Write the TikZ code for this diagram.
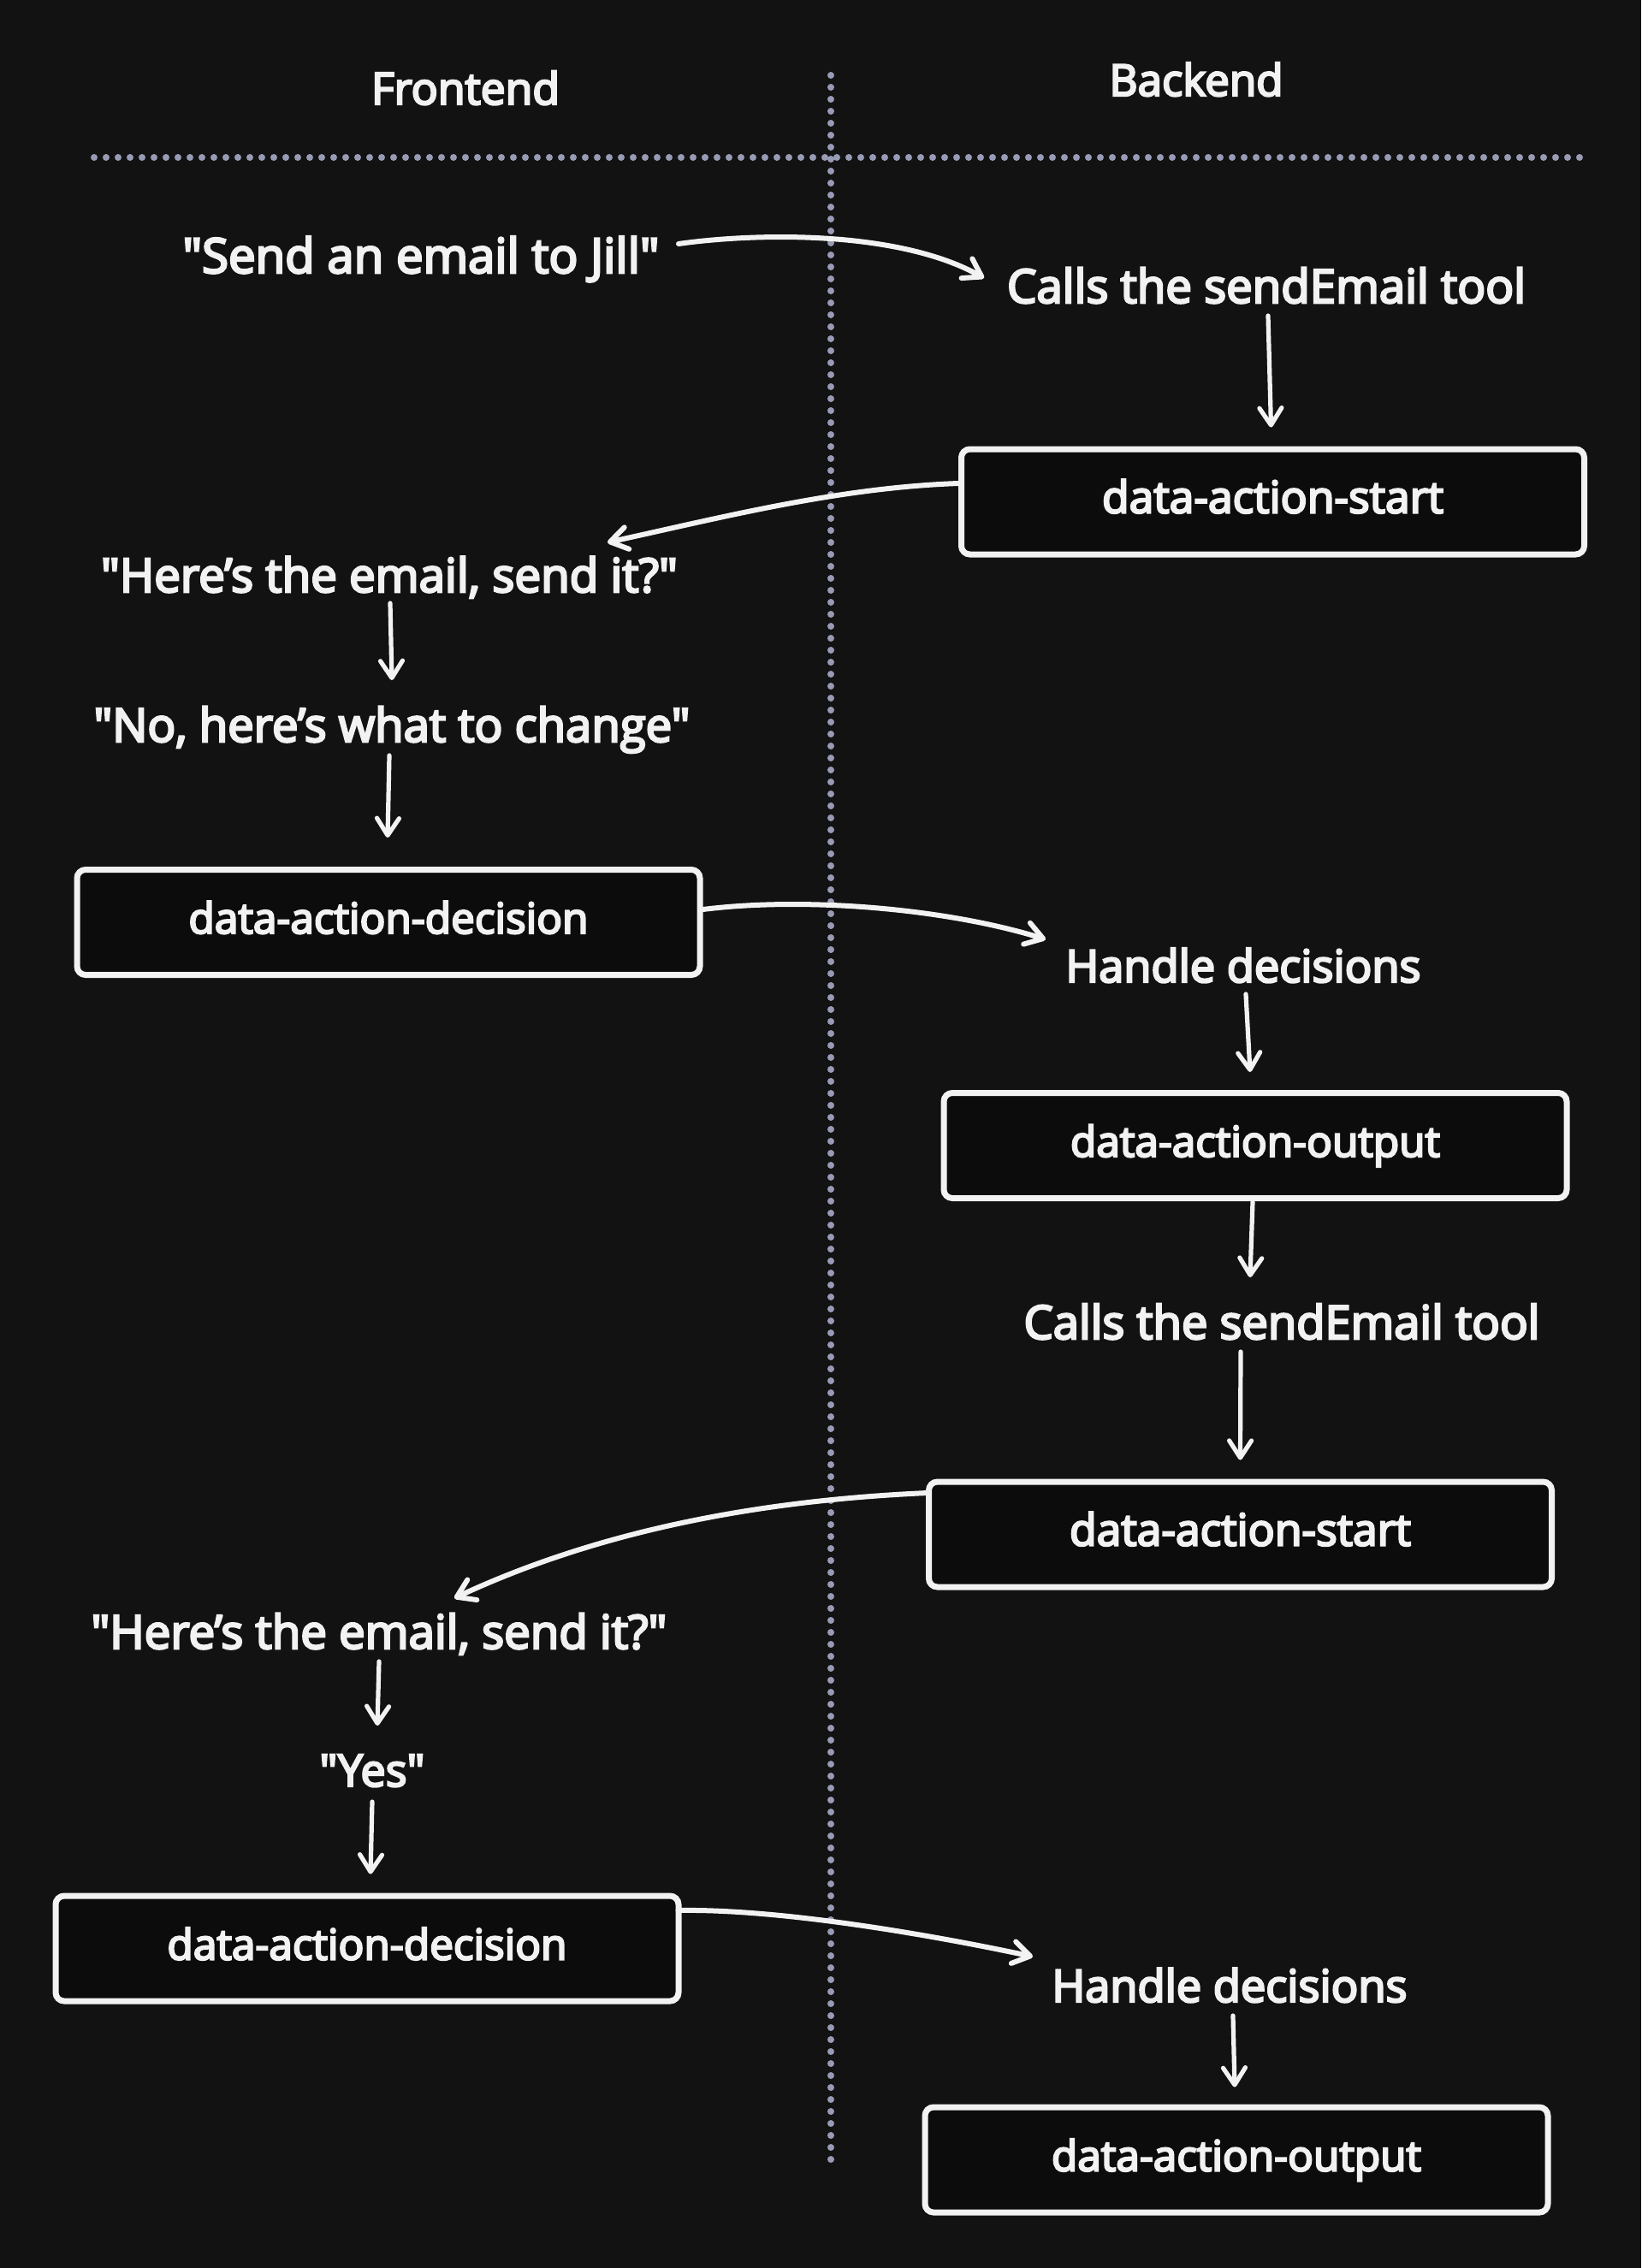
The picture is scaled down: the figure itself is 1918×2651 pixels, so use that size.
\documentclass[tikz,border=0pt]{standalone}
\usepackage{fontspec}
\setmainfont{Open Sans}[FakeBold=4.6, Ligatures=TeXOff]
\usetikzlibrary{arrows.meta,calc}
\definecolor{canvas}{RGB}{18,18,18}
\definecolor{boxfill}{RGB}{12,12,12}
\definecolor{ink}{RGB}{242,242,242}
\definecolor{divider}{RGB}{152,155,181}
% scale a label to a given width (in pt)
\newcommand{\fitto}[2]{\resizebox{#1pt}{!}{#2}}

\begin{document}
\begin{tikzpicture}[x=0.5pt,y=-0.5pt,
  every node/.style={text=ink, font=\fontsize{26}{30}\selectfont, inner sep=0pt},
  lbl/.style={anchor=base},
  stepbox/.style={draw=ink, fill=boxfill, line width=3.5pt, rounded corners=5pt,
    minimum width=364pt, minimum height=61.5pt, text height=19pt, text depth=6pt},
  arr/.style={draw=ink, line width=2.6pt, line cap=round,
    -{Straight Barb[length=10pt,width=13pt,round]}},
  bend arr/.style={arr, line width=3pt},
  lane/.style={draw=divider, line width=4pt, line cap=round, dash pattern=on 0pt off 7pt}]

% canvas
\fill[canvas] (0,0) rectangle (1918,2651);
\useasboundingbox (0,0) rectangle (1918,2651);

% lane dividers
\draw[lane] (110,184) -- (1853,184);
\draw[lane] (971,88) -- (971,2525);

% column headers
\node[lbl] (front) at (544,122) {\fitto{110}{Frontend}};
\node[lbl] (back) at (1398,112) {\fitto{101.5}{Backend}};

% first round
\node[lbl] (t1) at (492,319) {\fitto{278.5}{"Send an email to Jill"}};
\node[lbl] (t2) at (1480,354) {\fitto{303}{Calls the sendEmail tool}};
\node[stepbox] (box1) at (1487.5,586.5) {\fitto{199.5}{data-action-start}};
\node[lbl] (t3) at (455,692) {\fitto{337}{"Here’s the email, send it?"}};
\node[lbl] (t4) at (458,867) {\fitto{348.5}{"No, here’s what to change"}};
\node[stepbox] (box2) at (454,1078) {\fitto{233.5}{data-action-decision}};
\node[lbl] (t5) at (1453,1148) {\fitto{207.5}{Handle decisions}};
\node[stepbox] (box3) at (1467,1339) {\fitto{216}{data-action-output}};

% second round
\node[lbl] (t6) at (1498,1565) {\fitto{301.5}{Calls the sendEmail tool}};
\node[stepbox] (box4) at (1449.5,1793.5) {\fitto{199.5}{data-action-start}};
\node[lbl] (t7) at (443,1927) {\fitto{336.5}{"Here’s the email, send it?"}};
\node[lbl] (t8) at (435,2088) {\fitto{61.5}{"Yes"}};
\node[stepbox] (box5) at (429,2277.5) {\fitto{233.5}{data-action-decision}};
\node[lbl] (t9) at (1437,2340) {\fitto{207.5}{Handle decisions}};
\node[stepbox] (box6) at (1445,2524.5) {\fitto{216}{data-action-output}};

% connectors
\draw[bend arr] ($(t1.base)+(301,-34)$) .. controls +(100,-14) and +(-96,-54) .. ($(t2.base)+(-330,-29)$);
\draw[arr] ($(t2.base)+(2,15)$) -- ($(box1.north)+(-2,-22)$);
\draw[bend arr] ($(box1.west)+(0,-21.5)$) .. controls +(-140,5) and +(137,-30) .. ($(t3.base)+(255,-58)$);
\draw[arr] ($(t3.base)+(1,13)$) -- ($(t4.base)+(0,-72)$);
\draw[arr] ($(t4.base)+(-3,16)$) -- ($(box2.north)+(-1,-34)$);
\draw[bend arr] ($(box2.east)+(0,-15)$) .. controls +(120,-15) and +(-116,-36) .. ($(t5.base)+(-231,-50)$);
\draw[arr] ($(t5.base)+(3,14)$) -- ($(box3.north)+(-6,-21)$);
\draw[arr] ($(box3.south)+(-3,1)$) -- ($(t6.base)+(-37,-72)$);
\draw[arr] ($(t6.base)+(-48,15)$) -- ($(box4.north)+(0,-22)$);
\draw[bend arr] ($(box4.west)+(2,-48.5)$) .. controls +(-180,8) and +(180,-84) .. ($(t7.base)+(88,-59)$);
\draw[arr] ($(t7.base)+(0,15)$) -- ($(t8.base)+(6,-71)$);
\draw[arr] ($(t8.base)+(0,18)$) -- ($(box5.north)+(4,-22)$);
\draw[bend arr] ($(box5.east)+(-4,-44.5)$) .. controls +(120,-2) and +(-117,-25) .. ($(t9.base)+(-230,-53)$);
\draw[arr] ($(t9.base)+(4,16)$) -- ($(box6.north)+(-2,-20)$);

\end{tikzpicture}
\end{document}
